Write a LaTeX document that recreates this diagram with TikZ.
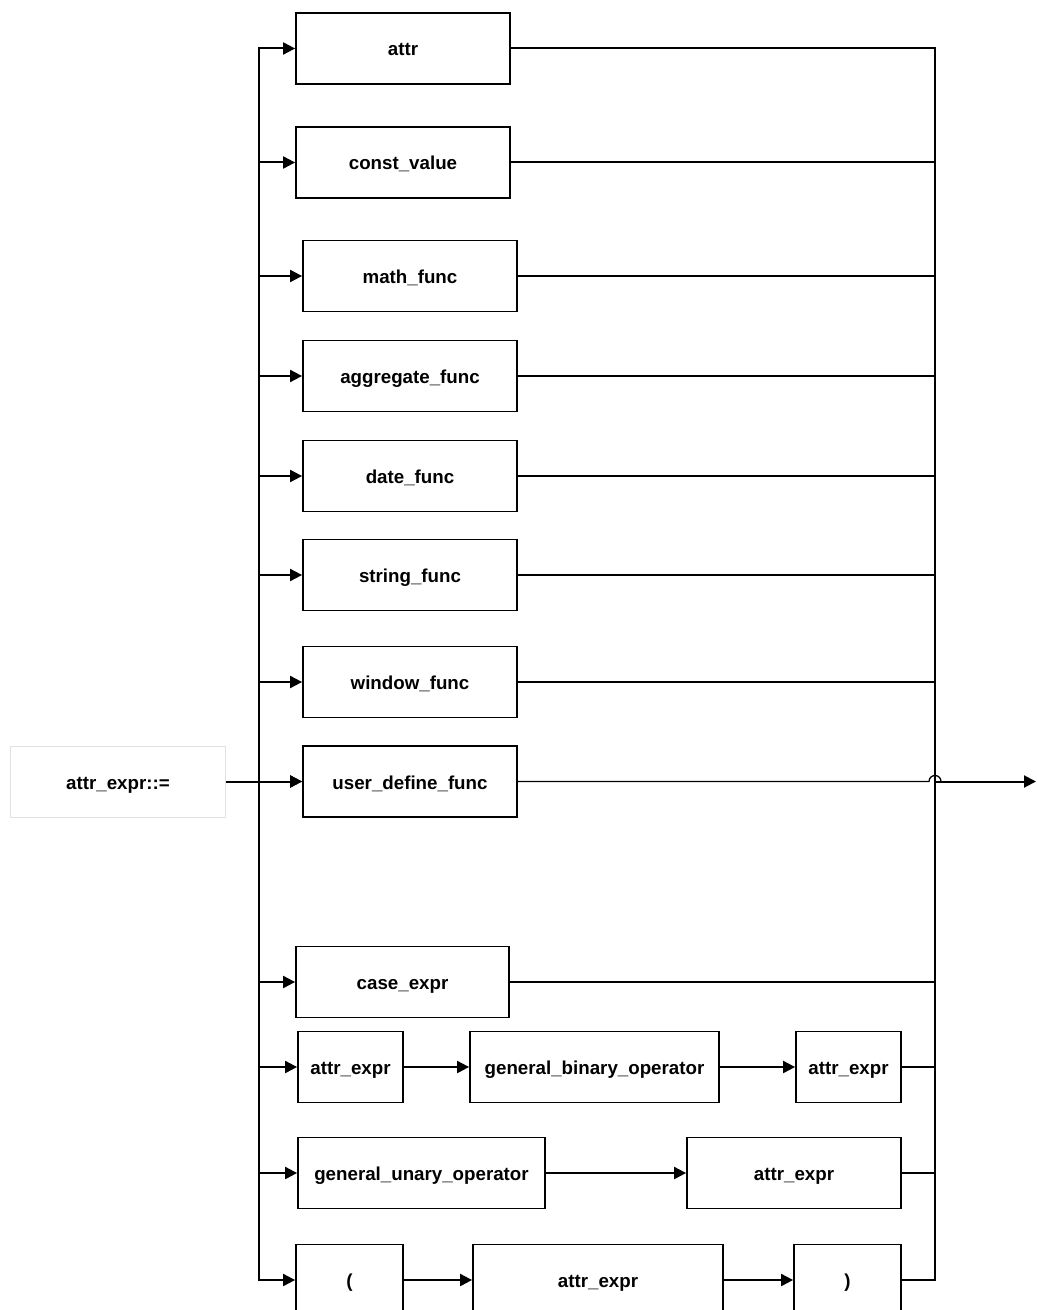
\documentclass[tikz,border=0pt]{standalone}
\usepackage{fontspec}
\setmainfont{Liberation Sans}
\usetikzlibrary{arrows.meta}
\begin{document}
\begin{tikzpicture}[x=1bp,y=-1bp,
  box/.style={draw=black,line width=1.8bp,rectangle,minimum height=71bp,inner sep=0pt,
    text height=15bp,text depth=0bp,
    font=\fontsize{18.8}{20}\selectfont\bfseries},
  startbox/.style={box,draw={rgb,255:red,225;green,225;blue,225},line width=1bp},
  ln/.style={line width=2bp,line join=miter},
  arr/.style={ln,-{Triangle[length=12bp,width=12bp]}}]
\useasboundingbox (0,0) rectangle (1036,1310);
\node[startbox,minimum width=214bp] (start) at (118,781.5) {attr\_expr::=};
\node[box,minimum width=214bp] (attr) at (403,48.5) {attr};
\node[box,minimum width=214bp] (cv) at (403,162.5) {const\_value};
\node[box,minimum width=214bp] (math) at (410,276) {math\_func};
\node[box,minimum width=214bp] (agg) at (410,376) {aggregate\_func};
\node[box,minimum width=214bp] (date) at (410,476) {date\_func};
\node[box,minimum width=214bp] (str) at (410,575) {string\_func};
\node[box,minimum width=214bp] (win) at (410,682) {window\_func};
\node[box,minimum width=214bp] (udf) at (410,781.5) {user\_define\_func};
\node[box,minimum width=213bp] (case) at (402.5,982) {case\_expr};
\node[box,minimum width=105bp] (ae1) at (350.5,1067) {attr\_expr};
\node[box,minimum width=249bp] (gbo) at (594.5,1067) {general\_binary\_operator};
\node[box,minimum width=105bp] (ae2) at (848.5,1067) {attr\_expr};
\node[box,minimum width=247bp] (guo) at (421.5,1173) {general\_unary\_operator};
\node[box,minimum width=214bp] (ae3) at (794,1173) {attr\_expr};
\node[box,minimum width=107bp] (lp) at (349.5,1280) {(};
\node[box,minimum width=250bp] (ae4) at (598,1280) {attr\_expr};
\node[box,minimum width=107bp] (rp) at (847.5,1280) {)};
\coordinate (Ltop) at (259,48.5);
\coordinate (Lbot) at (259,1280);
\coordinate (Rtop) at (935,48.5);
\coordinate (Rbot) at (935,1280);
\coordinate (jl) at (929,781.5);
\coordinate (out) at (1036,781.5);
% left bus
\draw[arr] (Lbot) -- (Ltop) -- (attr.west);
\draw[arr] (Ltop) -- (Lbot) -- (lp.west);
\foreach \n in {cv,math,agg,date,str,win,udf,case,ae1,guo}
  \draw[arr] (\n.west -| Ltop) -- (\n.west);
\draw[arr] (start.east) -- (udf.west);
% sequences
\draw[arr] (ae1) -- (gbo);
\draw[arr] (gbo) -- (ae2);
\draw[arr] (guo) -- (ae3);
\draw[arr] (lp) -- (ae4);
\draw[arr] (ae4) -- (rp);
% right bus
\draw[ln] (attr.east) -- (Rtop) -- (Rbot) -- (rp.east);
\foreach \n in {cv,math,agg,date,str,win,case,ae2,ae3}
  \draw[ln] (\n.east) -- (\n.east -| Rtop);
% output
\draw[line width=1.3bp] (udf.east) -- (jl) arc[start angle=180,end angle=0,radius=6bp];
\draw[arr] (udf.east -| Rtop) -- (out);
\end{tikzpicture}
\end{document}
